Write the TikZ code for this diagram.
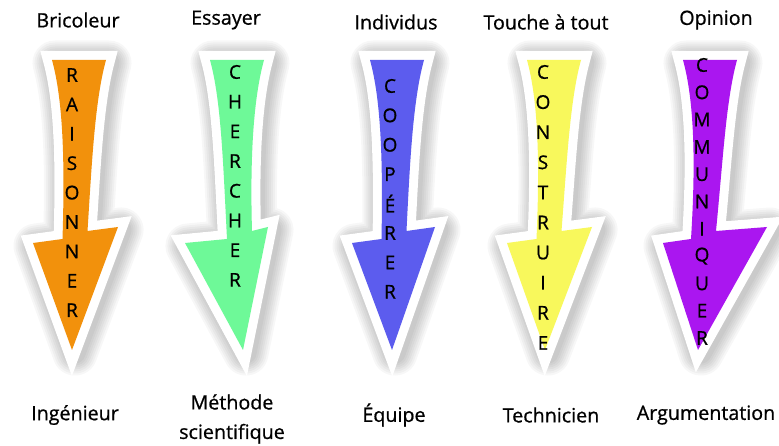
\documentclass[tikz,border=0pt]{standalone}
\usepackage{fontspec}
\setmainfont{Open Sans}
\newfontfamily\comique[FakeBold=0.8]{Open Sans}
\definecolor{orangeR}{RGB}{242,145,12}
\definecolor{vertC}{RGB}{110,249,152}
\definecolor{bleuC}{RGB}{92,92,238}
\definecolor{jauneC}{RGB}{248,248,92}
\definecolor{violetC}{RGB}{170,22,240}
\tikzset{
	etiquette/.style={font=\comique\fontsize{14}{21}\selectfont, align=center, inner sep=1pt},
	lettre/.style={font=\comique\fontsize{13.5}{15}\selectfont, inner sep=0pt},
}
\begin{document}
\begin{tikzpicture}[x=0.025cm,y=-0.025cm]
	\useasboundingbox (0,0) rectangle (779,446);
	\fill[white] (0,0) rectangle (779,446);
	% fleches : centre, barbe gauche, barbe droite, pointe, lettres x, couleur, y0, pas, mot
	\foreach \i/\x/\L/\R/\T/\lx/\c/\y/\g/\w in {
		1/79/-46/39/-7/-7/orangeR/75/29.4/{R,A,I,S,O,N,N,E,R},
		2/237/-52/31/6/-2/vertC/72/29.7/{C,H,E,R,C,H,E,R},
		3/397/-45/38/-5/-7/bleuC/86/29.4/{C,O,O,P,É,R,E,R},
		4/554/-47/38/-9/-11/jauneC/72/30.1/{C,O,N,S,T,R,U,I,R,E},
		5/710/-47/57/-12/-8/violetC/65/27.3/{C,O,M,M,U,N,I,Q,U,E,R}}
	{
		\begin{scope}[shift={(\x,0)}]
			\def\corps{(-27,60) -- (27,60) .. controls (16,100) and (13,160) .. ({12+\T/2},231)
				-- (\R,227) -- (\T,350) -- (\L,243) -- ({-13+\T/2},239)
				.. controls (-14,160) and (-16,100) .. (-27,60) -- cycle}
			\foreach \k in {1,...,7}
				\draw[black, opacity=0.03, line join=round, line width={(17+4*\k)*0.7113pt}]
					[shift={(3,3)}] \corps;
			\draw[white, line width=12.8pt, line join=miter] \corps;
			\fill[\c] \corps;
			\foreach \l [count=\k] in \w
				\node[lettre] (l\i-\k) at (\lx, {\y+(\k-1)*\g}) {\l};
		\end{scope}
	}
	% textes du haut
	\node[etiquette] (haut1) at (78,20) {Bricoleur};
	\node[etiquette] (haut2) at (226,20) {Essayer};
	\node[etiquette] (haut3) at (396,22) {Individus};
	\node[etiquette] (haut4) at (546,22) {Touche à tout};
	\node[etiquette] (haut5) at (716,20) {Opinion};
	% textes du bas
	\node[etiquette] (bas1) at (75,415) {Ingénieur};
	\node[etiquette] (bas2) at (232,419) {Méthode\\scientifique};
	\node[etiquette] (bas3) at (394,415) {Équipe};
	\node[etiquette] (bas4) at (551,415) {Technicien};
	\node[etiquette] (bas5) at (706,415) {Argumentation};
\end{tikzpicture}
\end{document}
